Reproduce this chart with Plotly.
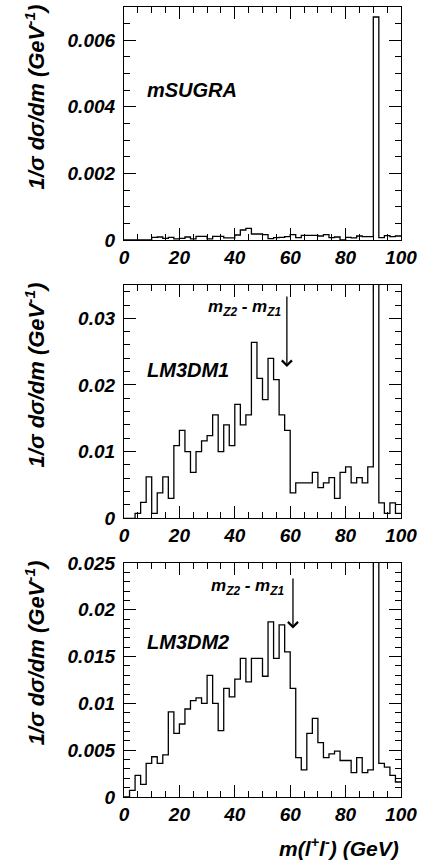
import plotly.graph_objects as go

# ---------------- data ----------------
bin_edges = list(range(0, 102, 2))  # 50 bins of 2 GeV, 0..100

# mSUGRA (top panel)
msugra = [0, 0, 0, 0, 0, 0.00008, 0.00009, 0.00005, 0.00008, 0.00003,
          0.00005, 0.00009, 0.00003, 0.00011, 0.00011, 0.00003, 0.00011, 0.00011, 0.00006, 0.00006,
          0.00015, 0.00030, 0.00035, 0.00018, 0.00018, 0.00016, 0.00004, 0.00007, 0.00008, 0.00010,
          0.00016, 0.00007, 0.00014, 0.00014, 0.00014, 0.00012, 0.00016, 0.00007, 0.00009, 0.0,
          0.00008, 0.00006, 0.00012, 0.00010, 0.00010, 0.0067, 0.00007, 0.00013, 0.00010, 0.00012]

# LM3DM1 (middle panel)
lm3dm1 = [0, 0, 0.00075, 0.0024, 0.0062, 0.00075, 0.0038, 0.0062, 0.0030, 0.0109,
          0.0132, 0.0100, 0.0069, 0.0100, 0.0116, 0.0124, 0.0155, 0.0100, 0.0140, 0.0109,
          0.0171, 0.0140, 0.0155, 0.0264, 0.0210, 0.0178, 0.0240, 0.0208, 0.0155, 0.0132,
          0.0038, 0.0053, 0.0053, 0.0053, 0.0069, 0.0046, 0.0053, 0.0061, 0.0030, 0.0069,
          0.0077, 0.0053, 0.0061, 0.0053, 0.0077, 0.0600, 0.0023, 0.00075, 0.0023, 0.00075]

# LM3DM2 (bottom panel)
lm3dm2 = [0, 0.0007, 0.0023, 0.00135, 0.0036, 0.0043, 0.0036, 0.0045, 0.0091, 0.0068,
          0.0078, 0.0094, 0.0103, 0.0106, 0.0100, 0.0130, 0.0100, 0.0071, 0.0116, 0.0107,
          0.0126, 0.0148, 0.0123, 0.0148, 0.0148, 0.0129, 0.0187, 0.0148, 0.0184, 0.0155,
          0.0116, 0.0042, 0.0029, 0.0068, 0.0084, 0.0058, 0.0042, 0.0046, 0.0049, 0.0039,
          0.0039, 0.0026, 0.0042, 0.0026, 0.0029, 0.0500, 0.0036, 0.0032, 0.0023, 0.0016]

panel_names = ["mSUGRA", "LM3DM1", "LM3DM2"]
y_ranges = [(0, 0.007), (0, 0.035), (0, 0.025)]
y_dticks = [0.002, 0.01, 0.005]
y_minor = [0.0005, 0.002, 0.001]
x_ticks = [0, 20, 40, 60, 80, 100]

# arrow positions (mZ2 - mZ1 endpoint) for LM3DM1 and LM3DM2
arrow_x = [58.8, 61.0]
arrow_tail_y = [0.0335, 0.0235]
arrow_tip_y = [0.0227, 0.0180]
label_pos = [(57.4, 0.0315), (58.5, 0.0224)]
name_pos = [(7.6, 0.0045), (7.6, 0.0222), (7.6, 0.0166)]

FONT = "Liberation Sans, Arial, Helvetica, sans-serif"

fig = go.Figure()

# axis suffixes: top -> '3', middle -> '2', bottom -> ''
suffixes = ["3", "2", ""]
domains = [(0.7051, 1.0), (0.3528, 0.6481), (0.0, 0.2962)]
series = [msugra, lm3dm1, lm3dm2]

for i, (vals, suf) in enumerate(zip(series, suffixes)):
    xs = bin_edges
    ys = list(vals) + [vals[-1]]
    fig.add_trace(go.Scatter(
        x=xs, y=ys, mode="lines", line=dict(shape="hv", color="black", width=1.3),
        xaxis="x" + suf, yaxis="y" + suf, showlegend=False, hoverinfo="skip"))

tickfont = dict(family=FONT, size=19, color="black", weight="bold", style="italic")
layout = dict(
    width=426, height=861,
    margin=dict(l=124, r=25, t=7, b=64, autoexpand=False),
    paper_bgcolor="white", plot_bgcolor="white",
    showlegend=False,
)
for i, suf in enumerate(suffixes):
    xa = dict(
        domain=[0, 1], range=[0, 100], tickvals=x_ticks,
        ticks="inside", ticklen=12, tickwidth=1, tickcolor="black",
        minor=dict(dtick=5, ticklen=6, tickwidth=1, tickcolor="black", ticks="inside"),
        showline=True, linecolor="black", linewidth=1.2, mirror="allticks",
        showgrid=False, zeroline=False, tickfont=tickfont,
        ticklabelstandoff=0, automargin=False,
        anchor="y" + suf, fixedrange=True,
    )
    ya = dict(
        domain=list(domains[i]), range=list(y_ranges[i]), dtick=y_dticks[i], tick0=0,
        ticks="inside", ticklen=12, tickwidth=1, tickcolor="black",
        minor=dict(dtick=y_minor[i], ticklen=6, tickwidth=1, tickcolor="black", ticks="inside"),
        showline=True, linecolor="black", linewidth=1.2, mirror="allticks",
        showgrid=False, zeroline=False, tickfont=tickfont,
        ticklabelstandoff=4, automargin=False,
        anchor="x" + suf, fixedrange=True,
    )
    layout["xaxis" + suf] = xa
    layout["yaxis" + suf] = ya

fig.update_layout(**layout)

annfont = dict(family=FONT, size=20, color="black", weight="bold", style="italic")
annotations = []
for i, suf in enumerate(suffixes):
    nx, ny = name_pos[i]
    annotations.append(dict(
        x=nx, y=ny, xref="x" + suf, yref="y" + suf, text=panel_names[i],
        showarrow=False, xanchor="left", yanchor="middle", font=annfont))
    # y-axis title
    annotations.append(dict(
        x=-0.321, y=1.018, xref="paper", yref=("y" + suf + " domain"),
        text="1/σ dσ/dm (GeV<sup>-1</sup>)", textangle=-90,
        showarrow=False, xanchor="center", yanchor="top",
        font=dict(family=FONT, size=22, color="black", weight="bold", style="italic")))

for j, suf in enumerate(["2", ""]):
    annotations.append(dict(
        x=arrow_x[j], y=arrow_tip_y[j], ax=arrow_x[j], ay=arrow_tail_y[j],
        xref="x" + suf, yref="y" + suf, axref="x" + suf, ayref="y" + suf,
        text="", showarrow=True, arrowhead=4, arrowsize=1.5, arrowwidth=1.3,
        arrowcolor="black"))
    lx, ly = label_pos[j]
    annotations.append(dict(
        x=lx, y=ly, xref="x" + suf, yref="y" + suf,
        text="m<sub>Z2</sub> - m<sub>Z1</sub>", showarrow=False,
        xanchor="right", yanchor="middle",
        font=dict(family=FONT, size=17, color="black", weight="bold", style="italic")))

# x-axis title
annotations.append(dict(
    x=1.0, y=-0.063, xref="paper", yref="paper",
    text="m(l<sup>+</sup>l<sup>-</sup>) (GeV)", showarrow=False,
    xanchor="right", yanchor="middle",
    font=dict(family=FONT, size=21, color="black", weight="bold", style="italic")))

fig.update_layout(annotations=annotations)
fig.write_html("out.html")
